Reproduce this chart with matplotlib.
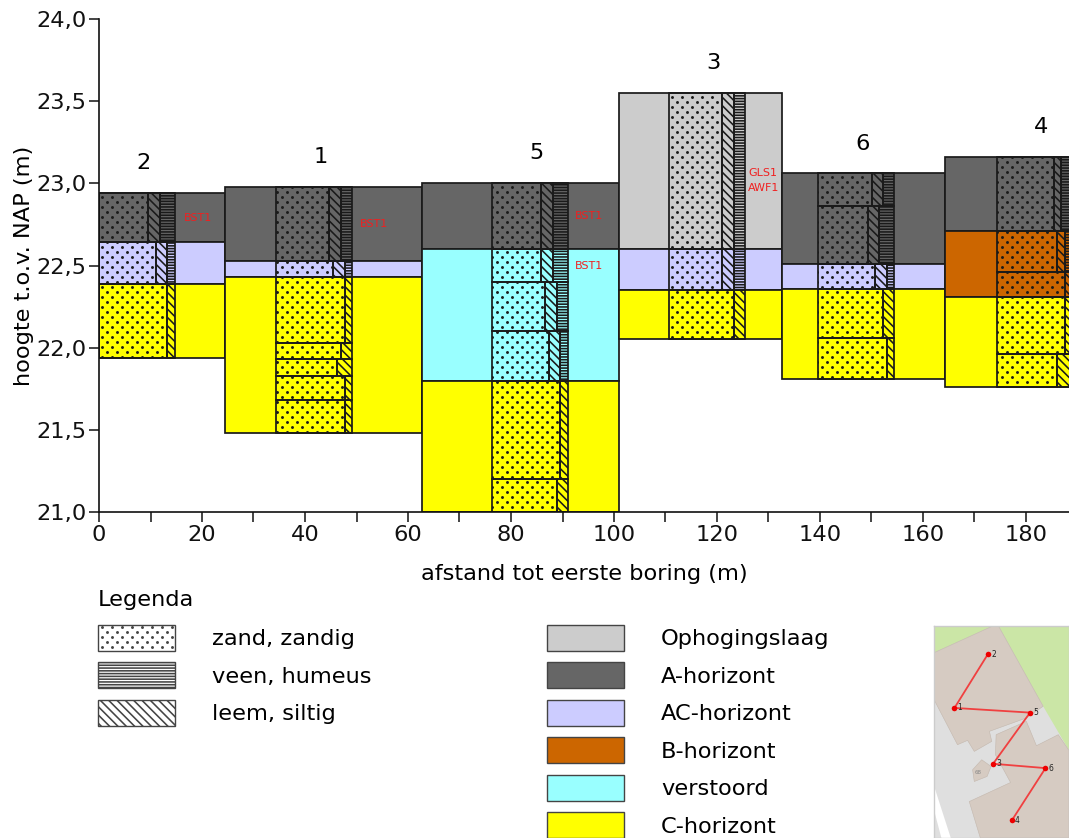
import numpy as np
import matplotlib
matplotlib.use('Agg')
import matplotlib.hatch as mhatch
import matplotlib.pyplot as plt
from matplotlib.patches import Patch, Polygon
from matplotlib.path import Path
from matplotlib.ticker import FuncFormatter, MultipleLocator

W, H = 1069, 838
plt.rcParams['font.family'] = ['DejaVu Sans']
plt.rcParams['hatch.linewidth'] = 1.15


class SandDots(mhatch.HatchPatternBase):
    """Staggered filled dots, twice as many rows as columns, for the '.' hatch."""
    rows = 20
    cols = 10
    radius = 0.0065

    def __init__(self, hatch, density):
        self.on = hatch.count('.') > 0
        self.circle = Path.unit_circle()
        self.num_vertices = (self.rows * self.cols * len(self.circle.vertices)) if self.on else 0

    def set_vertices_and_codes(self, vertices, codes):
        n = len(self.circle.vertices)
        i = 0
        for r in range(self.rows):
            shift = 0.5 / self.cols if r % 2 else 0.0
            for c in range(self.cols):
                centre = [(c + 0.25) / self.cols + shift, (r + 0.5) / self.rows]
                vertices[i:i + n] = self.circle.vertices * self.radius + centre
                codes[i:i + n] = self.circle.codes
                i += n


mhatch._hatch_types[mhatch._hatch_types.index(mhatch.SmallFilledCircles)] = SandDots
HATCH_SAND, HATCH_SILT, HATCH_PEAT = '.', '\\' * 4, '-' * 6

# ---- boreholes ----
boreholes = ['2', '1', '5', '3', '6', '4']
block_left = [0.0, 24.5, 62.7, 100.9, 132.7, 164.3]
block_right = [24.5, 62.7, 100.9, 132.7, 164.3, 194.0]
core_left = [0.0, 34.4, 76.3, 110.7, 139.7, 174.3]
core_width = 14.75

# ---- horizons ----
horizon_names = ['Ophogingslaag', 'A-horizont', 'AC-horizont', 'B-horizont', 'verstoord', 'C-horizont']
horizon_colors = ['#cccccc', '#666666', '#ccccff', '#cc6600', '#99ffff', '#ffff00']
layer_hole = [0, 0, 0, 1, 1, 1, 2, 2, 2, 3, 3, 3, 4, 4, 4, 5, 5, 5]
layer_top = [22.94, 22.64, 22.39, 22.98, 22.53, 22.43, 23.00, 22.60, 21.80,
             23.55, 22.60, 22.35, 23.06, 22.51, 22.36, 23.16, 22.71, 22.31]
layer_bottom = [22.64, 22.39, 21.94, 22.53, 22.43, 21.48, 22.60, 21.80, 21.00,
                22.60, 22.35, 22.05, 22.51, 22.36, 21.81, 22.71, 22.31, 21.76]
layer_horizon = [1, 2, 5, 1, 2, 5, 1, 4, 5, 0, 2, 5, 1, 2, 5, 1, 3, 5]

# ---- samples (texture in percent of the core width) ----
sample_hole = [0, 0, 0,
               1, 1, 1, 1, 1, 1, 1,
               2, 2, 2, 2, 2, 2,
               3, 3, 3,
               4, 4, 4, 4, 4,
               5, 5, 5, 5, 5]
sample_top = [22.94, 22.64, 22.39,
              22.98, 22.53, 22.43, 22.03, 21.93, 21.83, 21.68,
              23.00, 22.60, 22.40, 22.10, 21.80, 21.20,
              23.55, 22.60, 22.35,
              23.06, 22.86, 22.51, 22.36, 22.06,
              23.16, 22.71, 22.46, 22.31, 21.96]
sample_bottom = [22.64, 22.39, 21.94,
                 22.53, 22.43, 22.03, 21.93, 21.83, 21.68, 21.48,
                 22.60, 22.40, 22.10, 21.80, 21.20, 21.00,
                 22.60, 22.35, 22.05,
                 22.86, 22.51, 22.36, 22.06, 21.81,
                 22.71, 22.46, 22.31, 21.96, 21.76]
sample_sand = [65, 75, 90,
               70, 75, 90, 85, 80, 90, 90,
               65, 65, 70, 75, 90, 85,
               70, 70, 85,
               70, 65, 75, 85, 90,
               75, 80, 90, 90, 80]
sample_silt = [15, 15, 10,
               15, 15, 10, 15, 20, 10, 10,
               15, 15, 15, 14, 10, 15,
               15, 15, 15,
               15, 15, 15, 15, 10,
               10, 10, 10, 10, 20]
sample_peat = [20, 10, 0,
               15, 10, 0, 0, 0, 0, 0,
               20, 20, 15, 11, 0, 0,
               15, 15, 0,
               15, 20, 10, 0, 0,
               15, 10, 0, 0, 0]

# ---- red codes ----
code_text = ['BST1', 'BST1', 'BST1', 'BST1', 'GLS1', 'AWF1']
code_x = [19.3, 53.4, 95.2, 95.2, 129.0, 129.0]
code_y = [22.79, 22.755, 22.80, 22.50, 23.06, 22.97]

# ---- location map (map sheet units) ----
map_green = [[(30, 20), (205, 20), (30, 100)],
             [(222, 20), (432, 20), (432, 392), (355, 260)]]
map_building = [[(30, 100), (205, 20), (222, 20), (355, 260), (305, 295), (195, 335), (202, 365),
                 (150, 395), (130, 362), (100, 375), (30, 240)],
                [(215, 345), (305, 305), (335, 378), (400, 345), (432, 392), (432, 654), (168, 654),
                 (135, 545), (258, 488), (213, 405)],
                [(145, 450), (172, 420), (200, 440), (188, 470), (150, 485)]]
map_white = [[(30, 498), (80, 654), (52, 654), (30, 570)]]
map_x = [190, 91, 316, 206, 362, 262]
map_y = [105, 265, 279, 432, 445, 601]
map_dx = [17, 15, 16, 18, 17, 16]

fs = 16.2
fig = plt.figure(figsize=(W / 100, H / 100), dpi=100)
ax = fig.add_axes([99 / W, (H - 512) / H, 970 / W, 493 / H])

edge = '#1a1a1a'
lw = 1.25
for h, t, b, k in zip(layer_hole, layer_top, layer_bottom, layer_horizon):
    ax.bar(block_left[h], t - b, bottom=b, width=block_right[h] - block_left[h], align='edge',
           facecolor=horizon_colors[k], edgecolor=edge, linewidth=lw)

for h, t, b, sa, si, pe in zip(sample_hole, sample_top, sample_bottom, sample_sand, sample_silt, sample_peat):
    x = core_left[h]
    for pct, hatch in ((sa, HATCH_SAND), (si, HATCH_SILT), (pe, HATCH_PEAT)):
        if pct:
            w = pct / 100 * core_width
            ax.bar(x, t - b, bottom=b, width=w, align='edge', facecolor='none',
                   edgecolor=edge, linewidth=lw, hatch=hatch)
            x += w

for i, name in enumerate(boreholes):
    top = max(t for h, t in zip(layer_hole, layer_top) if h == i)
    ax.annotate(name, (core_left[i] + core_width / 2 + 1.2, top), xytext=(0, 21.5),
                textcoords='offset points', ha='center', va='center', fontsize=fs)

for s, x, y in zip(code_text, code_x, code_y):
    ax.text(x, y, s, color='#f02020', fontsize=8, ha='center', va='center')

ax.set_xlim(0, 970 / 5.15)
ax.set_ylim(21, 24)
ax.spines['top'].set_visible(False)
ax.spines['right'].set_visible(False)
for s in ('left', 'bottom'):
    ax.spines[s].set_linewidth(1.2)
    ax.spines[s].set_color('#111111')
ax.xaxis.set_major_locator(MultipleLocator(20))
ax.xaxis.set_minor_locator(MultipleLocator(10))
ax.yaxis.set_major_locator(MultipleLocator(0.5))
ax.yaxis.set_major_formatter(FuncFormatter(lambda v, p: f'{v:.1f}'.replace('.', ',')))
ax.tick_params(axis='both', which='both', length=7.5, width=1.1, labelsize=fs, colors='#111111')
ax.tick_params(axis='x', pad=2.2)
ax.tick_params(axis='y', pad=1.5)
ax.set_xlabel('afstand tot eerste boring (m)', fontsize=fs, labelpad=13.5)
ax.set_ylabel('hoogte t.o.v. NAP (m)', fontsize=fs, labelpad=1.5)

kw = dict(frameon=False, fontsize=fs, handlelength=3.42, handleheight=1.4, handletextpad=1.64,
          labelspacing=0.51, borderpad=0, borderaxespad=0, loc='upper left', bbox_transform=fig.transFigure)
tex_handles = [Patch(facecolor='white', edgecolor='#444444', hatch=h, label=n)
               for h, n in ((HATCH_SAND, 'zand, zandig'), (HATCH_PEAT, 'veen, humeus'), (HATCH_SILT, 'leem, siltig'))]
leg1 = fig.legend(handles=tex_handles, bbox_to_anchor=(98 / W, 1 - 590 / H), title='Legenda',
                  alignment='left', title_fontsize=fs, **kw)
leg1._legend_box.sep = 10.8
hor_handles = [Patch(facecolor=c, edgecolor='#444444', label=n) for c, n in zip(horizon_colors, horizon_names)]
leg2 = fig.legend(handles=hor_handles, bbox_to_anchor=(547 / W, 1 - 625 / H), **kw)

m = fig.add_axes([934 / W, 0, 135 / W, 212 / H])
m.set_xlim(30, 432)
m.set_ylim(654, 20)
m.set_facecolor('#dfdfdf')
m.set_xticks([])
m.set_yticks([])
for s in m.spines.values():
    s.set_color('#cccccc')
    s.set_linewidth(1)
for p in map_green:
    m.add_patch(Polygon(p, facecolor='#cbe6a6', edgecolor='none'))
for p in map_building:
    m.add_patch(Polygon(p, facecolor='#d6cbc2', edgecolor='#c4b8ae', linewidth=0.4))
for p in map_white:
    m.add_patch(Polygon(p, facecolor='white', edgecolor='none'))
m.plot(map_x, map_y, color='#f04040', linewidth=1.3, zorder=3)
m.scatter(map_x, map_y, s=16, color='#ee0000', zorder=4, linewidths=0)
for n, x, y, d in zip(boreholes, map_x, map_y, map_dx):
    m.text(x + d, y, n, fontsize=5.5, ha='center', va='center', color='#222222', zorder=5)
m.text(162, 458, '68', fontsize=4, ha='center', va='center', color='#888888')

fig.savefig('out.png', dpi=100)
